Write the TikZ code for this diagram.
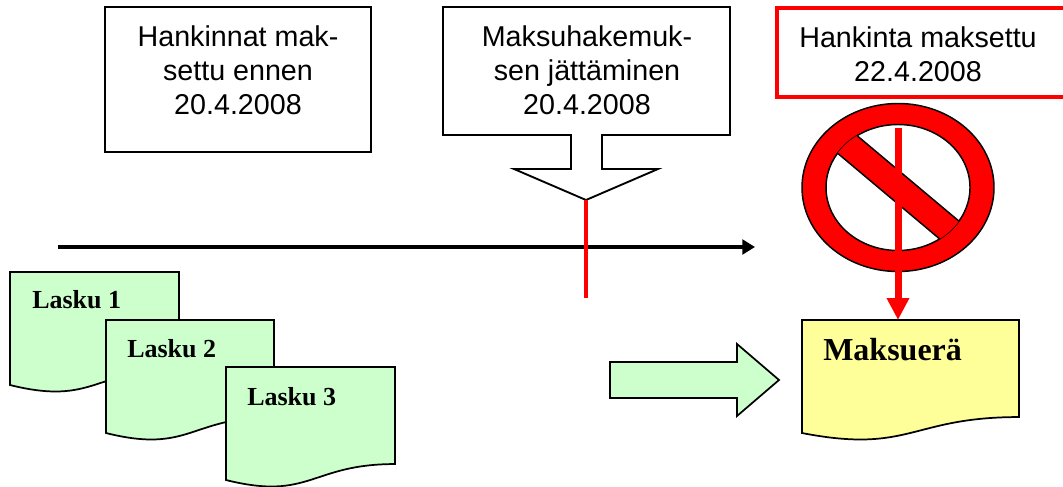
\documentclass[tikz,border=0pt]{standalone}
\usepackage{fontspec}
\setmainfont{Liberation Serif}
\newfontfamily\arialf{Liberation Sans}
\usetikzlibrary{arrows.meta}
\definecolor{docgreen}{HTML}{CCFFCC}
\definecolor{docyellow}{HTML}{FFFF99}
\definecolor{myred}{HTML}{FF0000}
\newcommand\mydoc[5]{% x,y,w,h,fill
  \pgfmathsetmacro\dxr{#1+#3}\pgfmathsetmacro\dxm{#1+#3/2}%
  \pgfmathsetmacro\dya{#2+0.802*#4}\pgfmathsetmacro\dyb{#2+1.108*#4}\pgfmathsetmacro\dyc{#2+0.934*#4}%
  \draw[docline,fill=#5] (#1,#2) -- (\dxr,#2) -- (\dxr,\dya) .. controls (\dxm,\dya) and (\dxm,\dyb) .. (#1,\dyc) -- cycle;%
}
\begin{document}
\begin{tikzpicture}[x=0.75pt,y=-0.75pt,
  box/.style={draw=black,line width=1.4pt,fill=white,inner sep=0pt},
  redbox/.style={draw=myred,line width=2.6pt,fill=white,inner sep=0pt},
  boxtext/.style={font=\arialf\fontsize{21.5}{25.5}\selectfont,align=center,inner sep=0pt},
  doctext/.style={font=\bfseries\fontsize{19.5}{23}\selectfont,anchor=base west,inner sep=0pt},
  bigdoctext/.style={font=\bfseries\fontsize{24}{28}\selectfont,anchor=base west,inner sep=0pt},
  docline/.style={draw=black,line width=1.3pt,line join=miter},
  timeline/.style={draw=black,line width=3pt,-{Triangle[length=9.5pt,width=11pt]}},
  redline/.style={draw=myred,line width=3pt},
  redarrow/.style={draw=myred,line width=5.25pt,-{Triangle[length=16.5pt,width=16pt]}},
  ringline/.style={draw=black,line width=1.1pt}]
\useasboundingbox (0,0) rectangle (1063,486);
\fill[white] (0,0) rectangle (1063,486);

% top boxes
\node[box,minimum width=199.5pt,minimum height=108.75pt] (b1) at (238,79.5) {};
\node[boxtext] (t1) at (238,70) {Hankinnat mak-\\settu ennen\\20.4.2008};

\draw[box] (443,7) -- (730,7) -- (730,135) -- (602,135) -- (602,169) -- (658,169)
  -- (586,200) -- (514,169) -- (571,169) -- (571,135) -- (443,135) -- cycle;
\coordinate (ctip) at (586,200);
\node[boxtext] (t2) at (587,70) {Maksuhakemuk-\\sen jättäminen\\20.4.2008};

\node[redbox,minimum width=216.75pt,minimum height=66.75pt] (b3) at (921.5,52.5) {};
\node[boxtext] (t3) at (918,54) {Hankinta maksettu\\22.4.2008};

% timeline
\coordinate (tl0) at (58,247);
\coordinate (tl1) at (755,247);
\draw[timeline] (tl0) -- (tl1);
\coordinate (mk) at (586,298);
\draw[redline] (ctip) -- (mk);

% no sign
\fill[myred,even odd rule] (898,187.5) ellipse [x radius=72pt,y radius=63pt]
  (898,187.5) ellipse [x radius=54pt,y radius=47.25pt];
\draw[ringline] (898,187.5) ellipse [x radius=72pt,y radius=63pt];
\draw[ringline] (898,187.5) ellipse [x radius=54pt,y radius=47.25pt];
\begin{scope}
  \clip (898,187.5) ellipse [x radius=54pt,y radius=47.25pt];
  \fill[myred] (805.4,126.2) -- (822.1,106.3) -- (990.6,247.7) -- (973.9,267.7) -- cycle;
  \draw[ringline] (805.4,126.2) -- (973.9,267.7) (822.1,106.3) -- (990.6,247.7);
\end{scope}

% documents
\mydoc{10}{272}{169}{121}{docgreen}
\mydoc{106}{320}{168}{121}{docgreen}
\mydoc{226}{367}{169}{121}{docgreen}
\node[doctext] (l1) at (32,308) {Lasku 1};
\node[doctext] (l2) at (127,357) {Lasku 2};
\node[doctext] (l3) at (247,405) {Lasku 3};

% green arrow
\draw[docline,fill=docgreen] (610,362) -- (737,362) -- (737,344) -- (779,380)
  -- (737,416) -- (737,398) -- (610,398) -- cycle;

% Maksuera
\mydoc{802}{320}{217}{121}{docyellow}
\node[bigdoctext] (m) at (823,360) {Maksuerä};

\coordinate (ns) at (898,128);
\coordinate (mtop) at (898,320);
\draw[redarrow] (ns) -- (mtop);
\end{tikzpicture}
\end{document}
